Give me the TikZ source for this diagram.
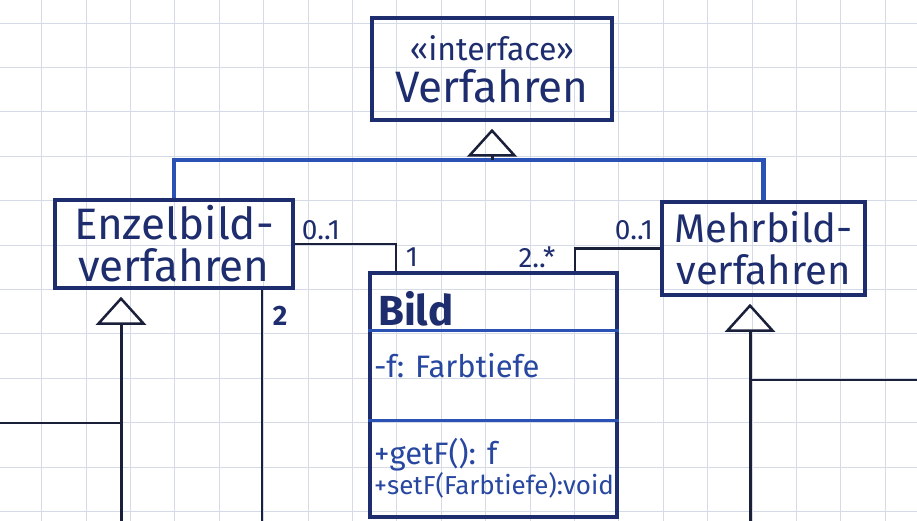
\documentclass[tikz,border=0pt]{standalone}
\usepackage{fontspec}
\setsansfont{Fira Sans}
\usepackage{xcolor}
\usetikzlibrary{arrows.meta,positioning,calc}
\definecolor{ink}{HTML}{1E2D6E}
\definecolor{inkblue}{HTML}{2A52B5}
\definecolor{pencil}{HTML}{1A1F3A}
\definecolor{paper}{HTML}{D5DBE6}

\begin{document}
\begin{tikzpicture}[
  x=1pt, y=-1pt,
  classbox/.style={draw=ink, line width=3.5pt, inner sep=0pt, align=center, text=ink,
    font=\sffamily\fontsize{40}{42}\selectfont},
  mult/.style={font=\sffamily\fontsize{28}{28}\selectfont, text=ink, inner sep=0pt},
  member/.style={font=\sffamily\fontsize{31}{32}\selectfont, text=inkblue!70!ink, anchor=west, inner sep=0pt},
  sep/.style={draw=inkblue, line width=3.5pt},
  bar/.style={draw=inkblue, line width=4.5pt},
  assoc/.style={draw=pencil, line width=2.5pt},
  gen/.style={draw=pencil, line width=3pt, shorten >=7pt,
    -{Triangle[open, length=28pt, width=50pt, line width=2.5pt]}}
]
\useasboundingbox (0,0) rectangle (917,521);
\fill[white] (0,0) rectangle (917,521);
% squared paper
\foreach \i in {0,...,19} \draw[paper, line width=0.9pt] ({41.7+44.4*\i},0) -- ++(0,521);
\foreach \j in {0,...,11} \draw[paper, line width=0.9pt] (0,{23+44.4*\j}) -- ++(917,0);

% classes
\node[classbox, minimum width=240pt, minimum height=102pt] (iface) at (492,69)
  {{\fontsize{32}{38}\selectfont «interface»}\\{\fontsize{44}{44}\selectfont Verfahren}};
\node[classbox, minimum width=238pt, minimum height=88pt] (einzel) at (174,244)
  {{\fontsize{44}{42}\selectfont Enzelbild-}\\{\fontsize{44}{42}\selectfont verfahren}};
\node[classbox, minimum width=203pt, minimum height=93pt] (mehr) at (763.5,248.5) {Mehrbild-\\verfahren};
\node[draw=ink, line width=3.5pt, minimum width=247pt, minimum height=244pt] (bild) at (493.5,395) {};

% Bild compartments
\node[member, text=ink, font=\sffamily\bfseries\fontsize{42}{42}\selectfont] (bildname) at (378,309) {Bild};
\draw[sep] ($(bild.north west)+(0,59)$) -- ($(bild.north east)+(0,59)$);
\node[member] (attr) at (374,366) {-f: Farbtiefe};
\draw[sep] ($(bild.north west)+(0,149)$) -- ($(bild.north east)+(0,149)$);
\node[member] (getter) at (374,455) {+getF(): f};
\node[member, font=\sffamily\fontsize{26}{28}\selectfont] (setter) at (374,485) {+setF(Farbtiefe):void};

% generalisation to the interface
\path (0,160) coordinate (bar-y);
\coordinate (hub) at (iface.south |- bar-y);
\draw[bar] (einzel.north) |- (hub) -| (mehr.north);
\draw[gen] (hub) -- (iface.south);

% associations to Bild
\draw[assoc] (einzel.east) -| ($(bild.north west)!0.11!(bild.north east)$);
\draw[assoc] (mehr.west) -| ($(bild.north west)!0.826!(bild.north east)$);
\node[mult] (e-mult) at (321,230) {0..1};
\node[mult] (b-one) at (412,257) {1};
\node[mult] (b-many) at (537,257) {2..*};
\node[mult] (m-mult) at (634,230) {0..1};

% lines leaving the page
\coordinate (e-sub) at (121,521);
\draw[gen] (e-sub) -- (e-sub |- einzel.south);
\coordinate (left-in) at (0,423);
\draw[assoc] (left-in) -- (left-in -| e-sub);
\coordinate (e-down) at (262,521);
\draw[assoc] (einzel.south -| e-down) -- (e-down);
\node[mult, font=\sffamily\bfseries\fontsize{28}{28}\selectfont] (e-two) at (280,316) {2};
\coordinate (m-sub) at (750,521);
\draw[gen] (m-sub) -- (m-sub |- mehr.south);
\coordinate (right-in) at (917,380);
\draw[assoc] (right-in) -- (right-in -| m-sub);
\end{tikzpicture}
\end{document}
